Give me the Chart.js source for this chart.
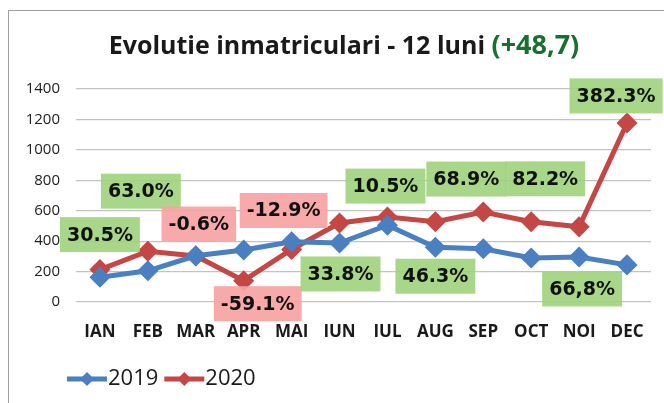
<!DOCTYPE html>
<html>
<head>
<meta charset="utf-8">
<script src="https://cdn.jsdelivr.net/npm/chart.js@4"></script>
<style>
  html, body { margin: 0; padding: 0; background: #fff; }
  #wrap { width: 664px; height: 403px; position: relative; }
</style>
</head>
<body>
<div id="wrap"><canvas id="chartInmatriculari" width="664" height="403"></canvas></div>
<script>
const luni = ['IAN', 'FEB', 'MAR', 'APR', 'MAI', 'IUN', 'IUL', 'AUG', 'SEP', 'OCT', 'NOI', 'DEC'];

const an2019 = [163, 205, 304, 342, 396, 388, 505, 360, 350, 289, 296, 244];
const an2020 = [213, 334, 302, 140, 345, 519, 558, 527, 591, 527, 494, 1177];

const crestere = ['30.5%', '63.0%', '-0.6%', '-59.1%', '-12.9%', '33.8%', '10.5%', '46.3%', '68.9%', '82.2%', '66,8%', '382.3%'];

const yTicks = [0, 200, 400, 600, 800, 1000, 1200, 1400];

const titlu = 'Evolutie inmatriculari - 12 luni ';
const titluTotal = '(+48,7)';

// where each growth box sits: which series point it hangs on, and a nudge
const pozitiiEticheta = [
    { ds: 1, dx: 0, dy: -35 }, { ds: 1, dx: -7, dy: -60 }, { ds: 1, dx: 3, dy: -32 },
    { ds: 1, dx: 14, dy: 23 }, { ds: 1, dx: -8, dy: -39 }, { ds: 0, dx: 1, dy: 31 },
    { ds: 1, dx: -2, dy: -31 }, { ds: 0, dx: 0, dy: 29 }, { ds: 1, dx: -17, dy: -33 },
    { ds: 1, dx: 14, dy: -43 }, { ds: 0, dx: 3, dy: 32 }, { ds: 1, dx: -11, dy: -27 }
];

const decor = {
    id: 'decor',
    beforeDraw(chart) {
        const c = chart.ctx;
        c.save();
        c.strokeStyle = '#a0a0a0';
        c.lineWidth = 1;
        c.strokeRect(8.5, 10.5, 800, 600);
        // title in two colours
        c.font = 'bold 25px "Open Sans"';
        const w1 = c.measureText(titlu).width;
        c.font = 'bold 27px "Open Sans"';
        const w2 = c.measureText(titluTotal).width;
        let x = 344 - (w1 + w2) / 2;
        c.textBaseline = 'middle';
        c.textAlign = 'left';
        c.font = 'bold 25px "Open Sans"';
        c.fillStyle = '#1a1a1a';
        c.fillText(titlu, x, 47);
        c.font = 'bold 27px "Open Sans"';
        c.fillStyle = '#17702f';
        c.fillText(titluTotal, x + w1, 46);
        c.restore();
    },
    afterDatasetsDraw(chart) {
        const c = chart.ctx;
        c.save();
        c.font = 'bold 19px "DejaVu Sans"';
        c.textAlign = 'center';
        c.textBaseline = 'middle';
        crestere.forEach((txt, i) => {
            const p = pozitiiEticheta[i];
            const pt = chart.getDatasetMeta(p.ds).data[i];
            const cx = pt.x + p.dx;
            const cy = pt.y + p.dy;
            const w = c.measureText(txt).width + 14;
            const h = 35;
            c.fillStyle = txt.startsWith('-') ? 'rgba(247, 163, 163, 0.92)' : 'rgba(160, 211, 124, 0.9)';
            c.fillRect(cx - w / 2, cy - h / 2, w, h);
            c.fillStyle = '#111';
            c.fillText(txt, cx, cy + 1);
        });
        c.restore();
    },
    afterDraw(chart) {
        // legend: line with diamond, then year
        const c = chart.ctx;
        c.save();
        c.font = '22px "Open Sans"';
        c.textBaseline = 'middle';
        let x = 67;
        chart.data.datasets.forEach(ds => {
            c.strokeStyle = ds.borderColor;
            c.fillStyle = ds.borderColor;
            c.lineWidth = 5;
            c.beginPath();
            c.moveTo(x, 379);
            c.lineTo(x + 40, 379);
            c.stroke();
            c.beginPath();
            c.moveTo(x + 20, 372);
            c.lineTo(x + 27, 379);
            c.lineTo(x + 20, 386);
            c.lineTo(x + 13, 379);
            c.closePath();
            c.fill();
            c.fillStyle = '#1a1a1a';
            c.fillText(ds.label, x + 41, 379);
            x += 41 + c.measureText(ds.label).width + 6;
        });
        c.restore();
    }
};

const chart = new Chart(document.getElementById('chartInmatriculari').getContext('2d'), {
    type: 'line',
    data: {
        labels: luni,
        datasets: [
            {
                label: '2019',
                data: an2019,
                borderColor: '#4a7fc1',
                backgroundColor: '#4a7fc1',
                borderWidth: 5,
                pointStyle: 'rectRot',
                pointRadius: 7,
                pointHoverRadius: 7,
                tension: 0
            },
            {
                label: '2020',
                data: an2020,
                borderColor: '#c44745',
                backgroundColor: '#c44745',
                borderWidth: 5,
                pointStyle: 'rectRot',
                pointRadius: 7,
                pointHoverRadius: 7,
                tension: 0
            }
        ]
    },
    plugins: [decor],
    options: {
        responsive: false,
        animation: false,
        devicePixelRatio: 1,
        layout: { padding: { left: 0, right: 12, top: 89, bottom: 61 } },
        plugins: {
            legend: { display: false },
            title: { display: false },
            tooltip: { enabled: false }
        },
        scales: {
            x: {
                offset: true,
                grid: { display: false, drawTicks: false },
                border: { display: false },
                ticks: {
                    color: '#1a1a1a',
                    padding: 20,
                    autoSkip: false,
                    maxRotation: 0,
                    font: { family: 'Open Sans', size: 17, weight: 'bold' }
                },
                afterFit(scale) { scale.height = 40; }
            },
            y: {
                min: 0,
                max: 1400,
                afterBuildTicks(scale) { scale.ticks = yTicks.map(v => ({ value: v })); },
                grid: { color: '#c3c3c3', lineWidth: 1.2, drawTicks: false },
                border: { display: false },
                ticks: {
                    color: '#222',
                    padding: 16,
                    font: { family: 'Open Sans', size: 15 },
                    callback: v => String(v)
                },
                afterFit(scale) { scale.width = 76; }
            }
        }
    }
});
</script>
</body>
</html>
